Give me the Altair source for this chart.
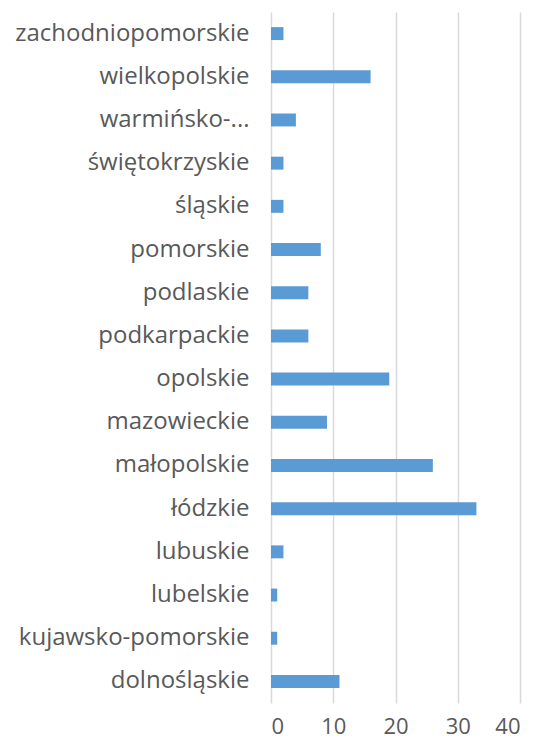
import altair as alt
import pandas as pd

regions = ["zachodniopomorskie", "wielkopolskie", "warmińsko-mazurskie", "świętokrzyskie",
           "śląskie", "pomorskie", "podlaskie", "podkarpackie", "opolskie", "mazowieckie",
           "małopolskie", "łódzkie", "lubuskie", "lubelskie", "kujawsko-pomorskie", "dolnośląskie"]
values = [2, 16, 4, 2, 2, 8, 6, 6, 19, 9, 26, 33, 2, 1, 1, 11]
x_ticks = [0, 10, 20, 30, 40]

df = pd.DataFrame({"region": regions, "value": values})

font = "Open Sans"

chart = alt.Chart(df).mark_bar(color="#5B9BD5").encode(
    x=alt.X("value:Q",
            scale=alt.Scale(domain=[0, 40], nice=False),
            axis=alt.Axis(values=x_ticks, title=None, ticks=False, domain=False,
                          grid=True, gridColor="#D9D9D9", gridWidth=1.5,
                          labelFont=font, labelFontSize=22, labelColor="#595959",
                          labelPadding=13)),
    y=alt.Y("region:N", sort=None,
            scale=alt.Scale(paddingInner=0.7, paddingOuter=0.35),
            axis=alt.Axis(title=None, ticks=False, domain=False, grid=False,
                          labelFont=font, labelFontSize=24, labelColor="#595959",
                          labelPadding=22, labelLimit=400,
                          minExtent=263, maxExtent=263,
                          labelExpr="datum.label == 'warmińsko-mazurskie' ? 'warmińsko-...' : datum.label")),
).properties(
    width=249, height=691,
    padding={"top": 4, "left": 0, "right": 5, "bottom": 8},
).configure_view(stroke=None)

chart.save("out.html", embed_options={"renderer": "svg", "actions": False})
